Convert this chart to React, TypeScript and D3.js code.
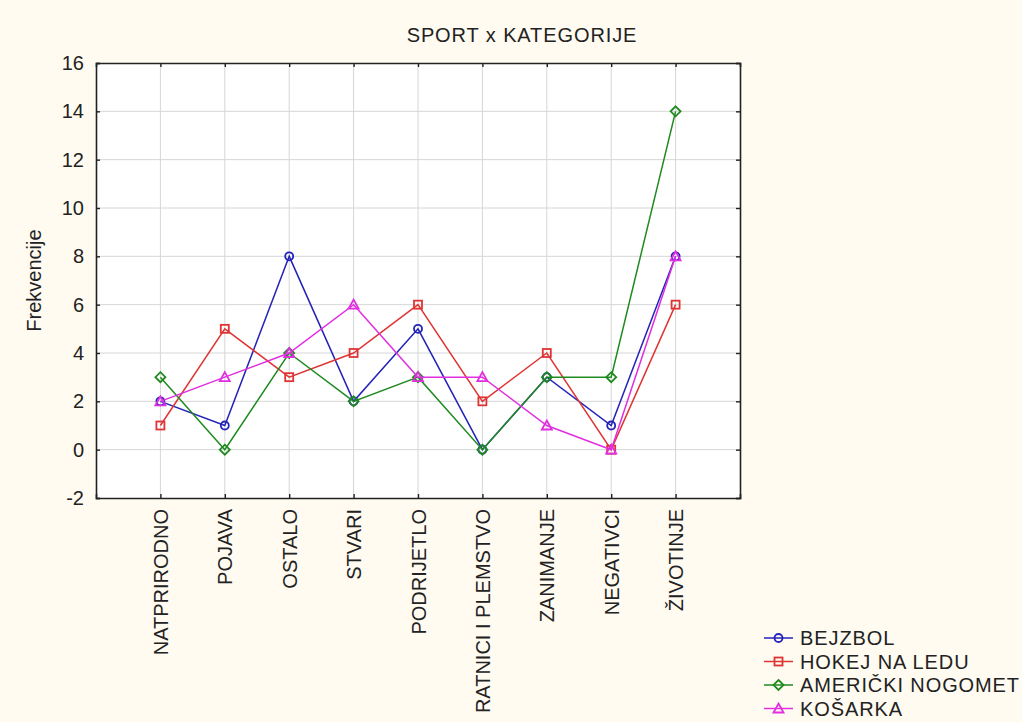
import { useEffect, useRef } from "react";
import * as d3 from "d3";

const categories = [
  "NATPRIRODNO",
  "POJAVA",
  "OSTALO",
  "STVARI",
  "PODRIJETLO",
  "RATNICI I PLEMSTVO",
  "ZANIMANJE",
  "NEGATIVCI",
  "ŽIVOTINJE",
];

const bejzbol = [2, 1, 8, 2, 5, 0, 3, 1, 8];
const hokej = [1, 5, 3, 4, 6, 2, 4, 0, 6];
const americki = [3, 0, 4, 2, 3, 0, 3, 3, 14];
const kosarka = [2, 3, 4, 6, 3, 3, 1, 0, 8];

const yTicks = [-2, 0, 2, 4, 6, 8, 10, 12, 14, 16];

const series = [
  { name: "BEJZBOL", values: bejzbol, color: "#2323b8", marker: "circle" },
  { name: "HOKEJ NA LEDU", values: hokej, color: "#e03434", marker: "square" },
  { name: "AMERIČKI NOGOMET", values: americki, color: "#1f8a1f", marker: "diamond" },
  { name: "KOŠARKA", values: kosarka, color: "#e02ee0", marker: "triangle" },
];

const W = 1022;
const H = 722;
const margin = { top: 63, right: 282, bottom: 224, left: 96 };
const font = "Arimo, 'Liberation Sans', Arial, sans-serif";
const fs = 20;

export default function App() {
  const svgRef = useRef<SVGSVGElement>(null);

  useEffect(() => {
    if (!svgRef.current) return;
    const svg = d3.select(svgRef.current);
    svg.selectAll("*").remove();

    const x = d3.scalePoint<string>()
      .domain(categories)
      .range([margin.left, W - margin.right])
      .padding(1);

    const y = d3.scaleLinear()
      .domain([-2, 16])
      .range([H - margin.bottom, margin.top]);

    svg.append("rect").attr("width", W).attr("height", H).attr("fill", "#fffbf1");

    // plot area
    svg.append("rect")
      .attr("x", margin.left)
      .attr("y", margin.top)
      .attr("width", W - margin.right - margin.left)
      .attr("height", H - margin.bottom - margin.top)
      .attr("fill", "#ffffff");

    // grid
    const grid = svg.append("g").attr("stroke", "#d6d6d6").attr("stroke-width", 1);
    categories.forEach((c) => {
      grid.append("line")
        .attr("x1", x(c)!).attr("x2", x(c)!)
        .attr("y1", margin.top).attr("y2", H - margin.bottom);
    });
    yTicks.slice(1, -1).forEach((t) => {
      grid.append("line")
        .attr("x1", margin.left).attr("x2", W - margin.right)
        .attr("y1", y(t)).attr("y2", y(t));
    });

    // axes (inward ticks, all four sides)
    const axisColor = "#222";
    const left = svg.append("g")
      .attr("transform", `translate(${margin.left},0)`)
      .call(d3.axisLeft(y).tickValues(yTicks).tickSize(-4).tickPadding(12).tickFormat((d) => String(d)));
    left.selectAll("text").attr("font-size", fs).attr("font-family", font).attr("fill", "#222");

    svg.append("g")
      .attr("transform", `translate(${W - margin.right},0)`)
      .call(d3.axisRight(y).tickValues(yTicks).tickSize(-4).tickFormat(() => ""));

    const bottom = svg.append("g")
      .attr("transform", `translate(0,${H - margin.bottom})`)
      .call(d3.axisBottom(x).tickSize(-4).tickPadding(0));
    bottom.selectAll("text")
      .attr("font-size", fs)
      .attr("font-family", font)
      .attr("fill", "#222")
      .attr("transform", "rotate(-90)")
      .attr("text-anchor", "end")
      .attr("x", -11)
      .attr("y", 0)
      .attr("dy", "0.35em");

    svg.append("g")
      .attr("transform", `translate(0,${margin.top})`)
      .call(d3.axisTop(x).tickSize(-4).tickFormat(() => ""));

    svg.selectAll(".domain").attr("stroke", axisColor).attr("stroke-width", 1.6);
    svg.selectAll(".tick line").attr("stroke", axisColor).attr("stroke-width", 1.4);

    // titles
    svg.append("text")
      .attr("x", 522).attr("y", 42)
      .attr("text-anchor", "middle")
      .attr("font-size", fs).attr("font-family", font).attr("fill", "#222")
      .attr("letter-spacing", 0.9)
      .text("SPORT x KATEGORIJE");

    svg.append("text")
      .attr("transform", `translate(41,${(margin.top + H - margin.bottom) / 2}) rotate(-90)`)
      .attr("text-anchor", "middle")
      .attr("font-size", fs).attr("font-family", font).attr("fill", "#222")
      .text("Frekvencije");

    const drawMarker = (g: d3.Selection<SVGGElement, unknown, null, undefined>, kind: string, cx: number, cy: number, color: string) => {
      const common = (s: d3.Selection<any, unknown, null, undefined>) =>
        s.attr("fill", "none").attr("stroke", color).attr("stroke-width", 1.8);
      if (kind === "circle") {
        common(g.append("circle").attr("cx", cx).attr("cy", cy).attr("r", 4));
      } else if (kind === "square") {
        common(g.append("rect").attr("x", cx - 4).attr("y", cy - 4).attr("width", 8).attr("height", 8));
      } else if (kind === "diamond") {
        common(g.append("path").attr("d", `M${cx},${cy - 5}L${cx + 5},${cy}L${cx},${cy + 5}L${cx - 5},${cy}Z`));
      } else {
        common(g.append("path").attr("d", `M${cx},${cy - 5}L${cx + 5},${cy + 4}L${cx - 5},${cy + 4}Z`));
      }
    };

    const line = d3.line<number>()
      .x((_, i) => x(categories[i])!)
      .y((d) => y(d));

    series.forEach((s) => {
      const g = svg.append("g");
      g.append("path")
        .attr("d", line(s.values))
        .attr("fill", "none")
        .attr("stroke", s.color)
        .attr("stroke-width", 1.5);
      s.values.forEach((v, i) => drawMarker(g, s.marker, x(categories[i])!, y(v), s.color));
    });

    // legend
    const legend = svg.append("g");
    series.forEach((s, i) => {
      const ly = 638 + i * 23.5;
      const g = legend.append("g");
      g.append("line")
        .attr("x1", 764).attr("x2", 793)
        .attr("y1", ly).attr("y2", ly)
        .attr("stroke", s.color).attr("stroke-width", 1.5);
      drawMarker(g, s.marker, 778.5, ly, s.color);
      g.append("text")
        .attr("x", 800).attr("y", ly)
        .attr("dy", "0.36em")
        .attr("font-size", fs).attr("font-family", font).attr("fill", "#222")
        .attr("letter-spacing", 0.9)
        .text(s.name);
    });
  }, []);

  return (
    <svg
      ref={svgRef}
      width={W}
      height={H}
      style={{ position: "absolute", left: 0, top: 0 }}
    />
  );
}
